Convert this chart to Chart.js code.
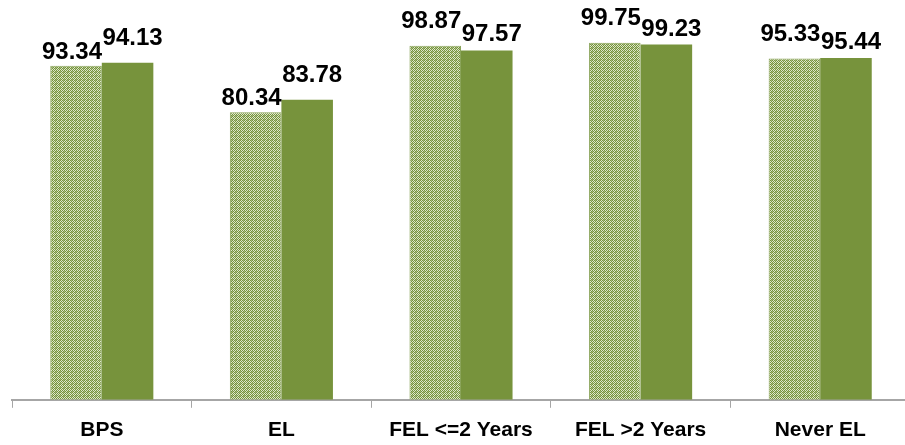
<!DOCTYPE html>
<html>
<head>
<meta charset="utf-8">
<script src="https://cdn.jsdelivr.net/npm/chart.js@4.4.1/dist/chart.umd.min.js"></script>
<style>
  html, body { margin: 0; padding: 0; background: #ffffff; overflow: hidden; }
  #wrap { position: relative; width: 905px; height: 445px; overflow: hidden; }
</style>
</head>
<body>
<div id="wrap"><canvas id="c" width="910" height="453"></canvas></div>
<script>
const categories = ['BPS', 'EL', 'FEL <=2 Years', 'FEL >2 Years', 'Never EL'];
const seriesA = [93.34, 80.34, 98.87, 99.75, 95.33];
const seriesB = [94.13, 83.78, 97.57, 99.23, 95.44];

const GREEN = '#77933C';
const FONT = '"Liberation Sans", Arial, sans-serif';

function makePattern() {
  const t = document.createElement('canvas');
  t.width = 4; t.height = 4;
  const g = t.getContext('2d');
  g.fillStyle = '#77933c';
  g.fillRect(0, 0, 4, 4);
  g.fillStyle = '#dde8cb';
  g.fillRect(1, 0, 1, 1);
  g.fillRect(0, 1, 1, 1);
  g.fillRect(2, 1, 1, 1);
  g.fillRect(1, 2, 1, 1);
  g.fillRect(3, 2, 1, 1);
  g.fillRect(2, 3, 1, 1);
  g.fillStyle = '#a6bb80';
  g.fillRect(3, 0, 1, 1);
  g.fillRect(0, 3, 1, 1);
  const ctx = document.getElementById('c').getContext('2d');
  return ctx.createPattern(t, 'repeat');
}

const labelPlugin = {
  id: 'valueLabels',
  afterDatasetsDraw(chart) {
    const ctx = chart.ctx;
    const m0 = chart.getDatasetMeta(0).data;
    const m1 = chart.getDatasetMeta(1).data;
    const d0 = chart.data.datasets[0].data;
    const d1 = chart.data.datasets[1].data;
    ctx.save();
    ctx.font = 'bold 24px ' + FONT;
    ctx.fillStyle = '#000000';
    ctx.textAlign = 'center';
    ctx.textBaseline = 'alphabetic';
    for (let i = 0; i < m0.length; i++) {
      const raiseB = d1[i] - d0[i] > 0.5;
      const gapA = raiseB ? 7 : 18;
      const gapB = raiseB ? 18 : 9;
      ctx.fillText(d0[i].toFixed(2), m0[i].x - 4, m0[i].y - gapA);
      ctx.fillText(d1[i].toFixed(2), m1[i].x + 5, m1[i].y - gapB);
    }
    ctx.restore();
  }
};

new Chart(document.getElementById('c'), {
  type: 'bar',
  data: {
    labels: categories,
    datasets: [
      { data: seriesA, backgroundColor: makePattern(), borderColor: '#8aa45a', borderWidth: 1,
        categoryPercentage: 0.574, barPercentage: 1.0 },
      { data: seriesB, backgroundColor: GREEN, borderWidth: 0,
        categoryPercentage: 0.574, barPercentage: 1.0 }
    ]
  },
  options: {
    responsive: false,
    animation: false,
    devicePixelRatio: 1,
    layout: { padding: { top: 6, left: 12, right: 0, bottom: 0 } },
    plugins: { legend: { display: false }, tooltip: { enabled: false } },
    scales: {
      x: {
        grid: { display: true, drawOnChartArea: false, offset: true, tickLength: 8, color: '#a6a6a6', lineWidth: 1 },
        border: { display: true, color: '#a6a6a6', width: 2 },
        ticks: { color: '#000000', font: { family: FONT, size: 21, weight: 'bold' }, padding: 10, maxRotation: 0 }
      },
      y: {
        display: false,
        min: 0,
        max: 110
      }
    }
  },
  plugins: [labelPlugin]
});
</script>
</body>
</html>
